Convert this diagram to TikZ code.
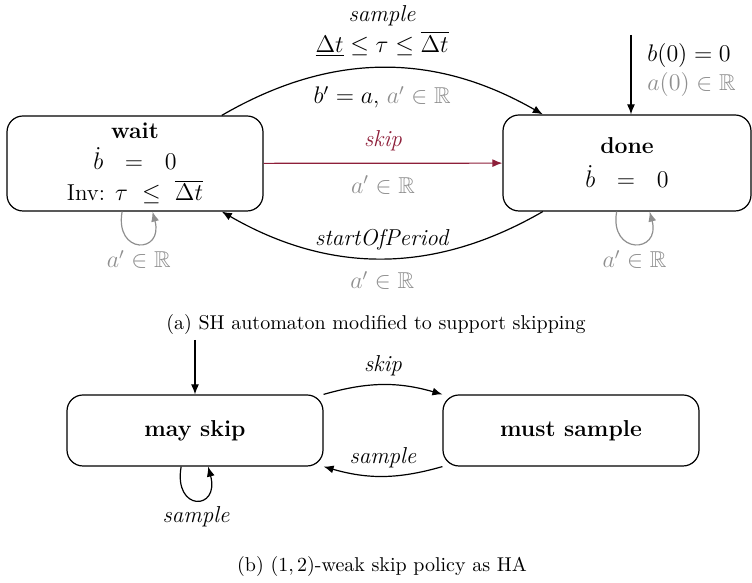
\documentclass[tikz,border=0pt]{standalone}
\usepackage{amssymb}
\usetikzlibrary{arrows.meta,calc}
\definecolor{skipred}{HTML}{8E1F3A}
\definecolor{soft}{gray}{0.56}
\tikzset{
  state/.style={draw, rounded corners=8pt, line width=0.6pt, inner sep=0pt, align=center,
    font=\fontsize{11.5}{14}\selectfont},
  arr/.style={-{Latex[length=5pt,width=4pt]}, line width=0.6pt},
  lbl/.style={inner sep=1pt, align=center, font=\fontsize{11.5}{14.5}\selectfont},
}
\newcommand{\anyR}{$a'\in\mathbb{R}$}
\begin{document}
\begin{tikzpicture}[x=0.5pt,y=0.5pt]
\useasboundingbox (0,0) rectangle (752,583);

% ---------- (a) sample-and-hold automaton with skipping ----------
\node[state, minimum width=128pt, minimum height=47.5pt] (wait) at (135,419.5)
  {\textbf{wait}\\[1.5pt] $\dot b\ \ =\ \ 0$\\[1.5pt] Inv: $\tau\ \leq\ \overline{\Delta t}$};
\node[state, minimum width=124pt, minimum height=48pt] (done) at (627,420)
  {\textbf{done}\\[3pt] $\dot b\ \ =\ \ 0$};

\coordinate (initA) at (631,548);
\draw[arr] (initA) -- (initA |- done.north);
\node[lbl, anchor=west, align=left] (initAlbl) at (645,513)
  {$b(0) = 0$\\[0pt] \textcolor{soft}{$a(0)\in\mathbb{R}$}};

\draw[arr] (wait.29.5) to[bend left=30]
  node[lbl, above=4pt] {\textit{sample}\\[1pt] $\underline{\Delta t}\leq\tau\leq\overline{\Delta t}$}
  node[lbl, below=8pt] {$b' = a$, \textcolor{soft}{\anyR}} (done.150);

\draw[arr, skipred] (wait) --
  node[lbl, above=5pt, text=skipred] {\textit{skip}}
  node[lbl, below=5pt, text=soft] {\anyR} (done);

\draw[arr] (done.210) to[bend left=30]
  node[lbl, above=3pt] {\textit{startOfPeriod}}
  node[lbl, below=5pt, text=soft] {\anyR} (wait.-29.5);

\draw[arr, soft] (wait.-105) .. controls +(-100:22pt) and +(-75:22pt) ..
  node[lbl, pos=0.5, below=2pt, text=soft] {\anyR} (wait.-70);
\draw[arr, soft] (done.-102) .. controls +(-100:22pt) and +(-75:22pt) ..
  node[lbl, pos=0.5, below=2pt, text=soft] {\anyR} (done.-65);

\node (capA) at (376,258) {(a) SH automaton modified to support skipping};

% ---------- (b) weakly-hard skip policy ----------
\node[state, minimum width=128pt, minimum height=35.5pt] (may) at (195,152.5) {\textbf{may skip}};
\node[state, minimum width=128pt, minimum height=35.5pt] (must) at (571,152.5) {\textbf{must sample}};

\coordinate (initB) at (195,243);
\draw[arr] (initB) -- (may.north);

\draw[arr] (may.north east) to[bend left=16]
  node[lbl, above=3pt] {\textit{skip}} (must.north west);
\draw[arr] (must.south west) to[bend left=16]
  node[lbl, above=3pt] {\textit{sample}} (may.south east);

\draw[arr] (may.-111) .. controls +(-100:23pt) and +(-75:23pt) ..
  node[lbl, pos=0.5, below=2pt] {\textit{sample}} (may.-70);

\node (capB) at (382,16) {(b) $(1,2)$-weak skip policy as HA};
\end{tikzpicture}
\end{document}
